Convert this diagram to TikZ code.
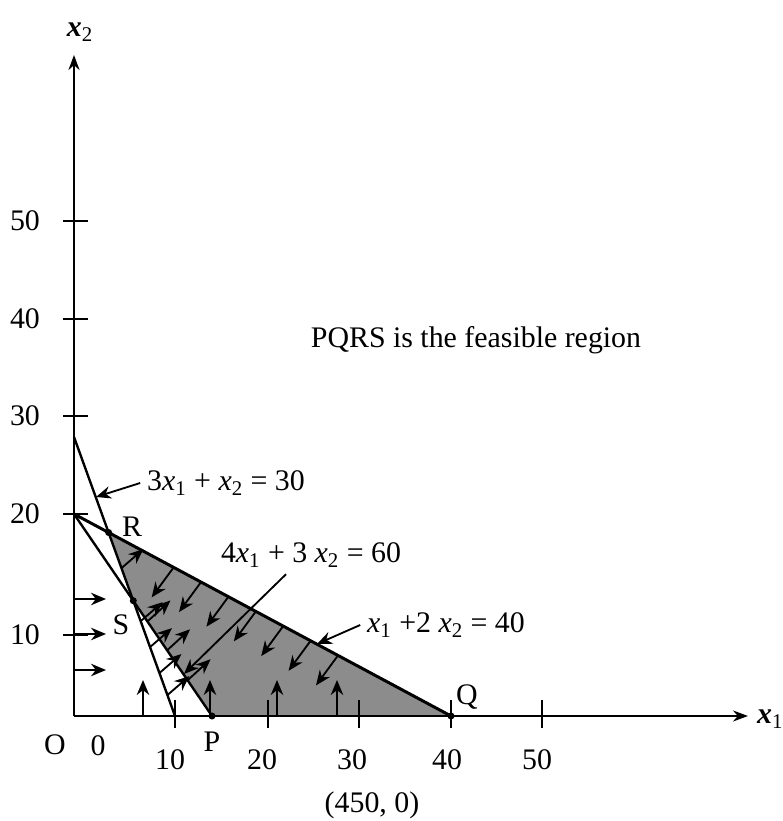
\documentclass[tikz,border=0pt]{standalone}
\usepackage{fontspec}
\setmainfont{Liberation Serif}
\usetikzlibrary{arrows.meta,calc}
\newcommand{\xs}[1]{\textit{x}\textsubscript{#1}}
\newcommand{\xb}[1]{\textbf{\textit{x}}\textsubscript{#1}}

\begin{document}
\begin{tikzpicture}[x=0.02cm,y=0.02cm,line width=1.35pt,>=Stealth,
  font=\fontsize{17}{20}\selectfont,
  axis/.style={-{Stealth[length=3mm,width=2.2mm]}},
  hint/.style={line width=1.05pt,-{Stealth[length=3mm,width=2.5mm]}}]
\useasboundingbox (-74,-105) rectangle (709,716);
% corner points
\coordinate (O) at (0,0);
\coordinate (P) at (138,0);
\coordinate (Q) at (377,0);
\coordinate (R) at (34.6,183.5);
\coordinate (S) at (59.3,115.3);
\coordinate (A) at (0,279);
\coordinate (B) at (101,0);
\coordinate (C) at (0,202);
% feasible region PQRS
\fill[black!45] (P) -- (Q) -- (R) -- (S) -- cycle;
% axes
\coordinate (ytop) at (0,661);
\coordinate (xend) at (674,0);
\draw[axis] (O) -- (ytop);
\draw[axis] (O) -- (xend);
\node (xtwo) at (6,684) {\xb2};
\node[anchor=west,inner sep=0pt] (xone) at (682,-3) {\xb1};
% ticks on x2
\foreach \y/\t in {81/10,202/20,300/30,397/40,495/50}{
  \draw (-11,\y) -- (14,\y);
  \node (ty\t) at (-49,\y) {\t};
}
% ticks on x1
\foreach \x/\lx/\t in {101/96/10,194/188/20,285/278/30,377/373/40,468/463/50}{
  \draw (\x,-12) -- (\x,16);
  \node (tx\t) at (\lx,-44) {\t};
}
% constraint lines
\draw (A) -- (B);
\draw (C) -- (P);
\draw[line width=1.7pt] (C) -- (Q);
\foreach \p in {P,Q,R,S} \fill (\p) circle[radius=2pt];
% x1 >= 0, x2 >= 0
\foreach \y in {46,82,117} \draw[hint] (0,\y) -- ++(32,0);
\foreach \x in {69,136,203,263} \draw[hint] (\x,0) -- ++(0,36);
% x1 + 2x2 <= 40
\foreach \t in {0.19,0.27,0.35,0.43,0.51,0.59,0.67}
  \draw[hint] ($(R)!\t!(Q)$) -- ++(-22,-30);
% 4x1 + 3x2 >= 60
\foreach \t in {0.18,0.43,0.69}
  \draw[hint] ($(S)!\t!(P)$) -- ++(23,21);
% 3x1 + x2 >= 30
\foreach \t in {0.47,0.66,0.753,0.846,0.925}
  \draw[hint] ($(A)!\t!(B)$) -- ++(22,19);
% point labels
\node (lR) at (58,189) {R};
\node (lS) at (47,91) {S};
\node (lP) at (138,-26) {P};
\node (lQ) at (393,19) {Q};
\node (lO) at (-19,-29) {O};
\node (lz) at (24,-30) {0};
\node (lpt) at (298,-89) {(450, 0)};
\node (note) at (402,376) {PQRS is the feasible region};
% line labels
\node (eqa) at (152,233) {3\xs1 + \xs2 = 30};
\node (eqb) at (237,161) {4\xs1 + 3 \xs2 = 60};
\node (eqc) at (372,91) {\xs1 +2 \xs2 = 40};
\coordinate (ta) at (22,219);
\coordinate (tb) at (110,42);
\coordinate (tc) at (243,72);
\draw[hint] (eqa.west) -- (ta);
\draw[hint] ([xshift=-0.5cm]eqb.south) -- (tb);
\draw[hint] (eqc.west) -- (tc);
\end{tikzpicture}
\end{document}
